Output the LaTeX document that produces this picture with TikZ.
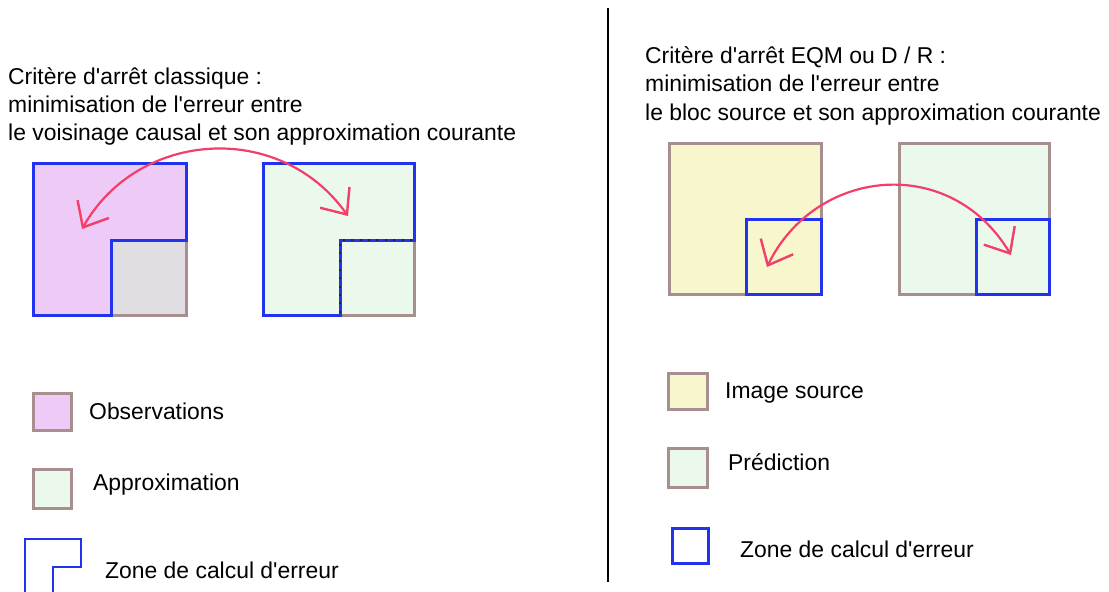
\documentclass[tikz,border=0pt]{standalone}
\usepackage{fontspec}
\setmainfont{Liberation Sans}[Ligatures=TeXOff]
\usetikzlibrary{arrows.meta}
\definecolor{pinkfill}{HTML}{EECBF6}
\definecolor{grayfill}{HTML}{E0DEE2}
\definecolor{greenfill}{HTML}{EBF9EC}
\definecolor{yellowfill}{HTML}{F7F6CC}
\definecolor{brownline}{HTML}{A88F8F}
\definecolor{blueline}{HTML}{2233EE}
\definecolor{redarrow}{HTML}{F23E68}
\tikzset{
  box/.style={draw=brownline, line width=3pt},
  zone/.style={draw=blueline, line width=3pt, line join=miter},
  txt/.style={anchor=base west, inner sep=0pt, font=\fontsize{22.9}{28}\selectfont},
  link/.style={draw=redarrow, line width=2.2pt, {Straight Barb[length=21pt,width=36pt,line width=2.4pt]}-{Straight Barb[length=21pt,width=36pt,line width=2.4pt]}},
  dots/.style={draw=black!85, line width=2.2pt, dash pattern=on 2pt off 6.4pt}
}
\begin{document}
\begin{tikzpicture}[x=1pt,y=-1pt]
\useasboundingbox (0,0) rectangle (1109,592);
% divider
\draw[line width=2.2pt] (608,8) -- (608,582);
% left titles
\node[txt] (t1) at (8,84) {Critère d'arrêt classique :};
\node[txt] (t2) at (8,112) {minimisation de l'erreur entre};
\node[txt] (t3) at (8,140) {le voisinage causal et son approximation courante};
% right titles
\node[txt] (r1) at (645,63) {Critère d'arrêt EQM ou D / R :};
\node[txt] (r2) at (645,91.5) {minimisation de l'erreur entre};
\node[txt] (r3) at (645,120) {le bloc source et son approximation courante};
% left square 1: observations
\fill[grayfill] (111,240) rectangle (186,315);
\draw[box] (33,163) rectangle (186,315);
\fill[pinkfill] (33,163) -- (186,163) -- (186,240) -- (111,240) -- (111,315) -- (33,315) -- cycle;
\draw[zone] (33,163) -- (186,163) -- (186,240) -- (111,240) -- (111,315) -- (33,315) -- cycle;
% left square 2: approximation
\draw[box, fill=greenfill] (263,163) rectangle (414,315);
\draw[zone] (263,163) -- (414,163) -- (414,240) -- (340,240) -- (340,315) -- (263,315) -- cycle;
\draw[dots] (412,240) -- (340,240) -- (340,315);
% left arrow
\coordinate (la) at (82,229);
\coordinate (lb) at (348,216);
\draw[link] (la) .. controls (138,130) and (280,120) .. (lb);
% right squares
\draw[box, fill=yellowfill] (669,143) rectangle (821,294);
\draw[zone] (746,219) rectangle (821,294);
\draw[box, fill=greenfill] (899,143) rectangle (1049,294);
\draw[zone] (976,219) rectangle (1049,294);
\coordinate (ra) at (767,267);
\coordinate (rb) at (1011,255);
\draw[link] (ra) .. controls (815,168) and (950,153) .. (rb);
% left legend
\draw[box, fill=pinkfill] (33,393) rectangle (71,430);
\node[txt] (lg1) at (89,419) {Observations};
\draw[box, fill=greenfill] (33,469) rectangle (71,508);
\node[txt] (lg2) at (93,490) {Approximation};
\draw[draw=blueline, line width=2pt] (25,600) -- (25,539) -- (81,539) -- (81,567) -- (53,567) -- (53,600);
\node[txt] (lg3) at (105,578) {Zone de calcul d'erreur};
% right legend
\draw[box, fill=yellowfill] (668,373) rectangle (707,409);
\node[txt] (rg1) at (725,398) {Image source};
\draw[box, fill=greenfill] (668,448) rectangle (707,487);
\node[txt] (rg2) at (728,470) {Prédiction};
\draw[draw=blueline, line width=3pt] (672,528) rectangle (708,563);
\node[txt] (rg3) at (740,557) {Zone de calcul d'erreur};
\end{tikzpicture}
\end{document}
